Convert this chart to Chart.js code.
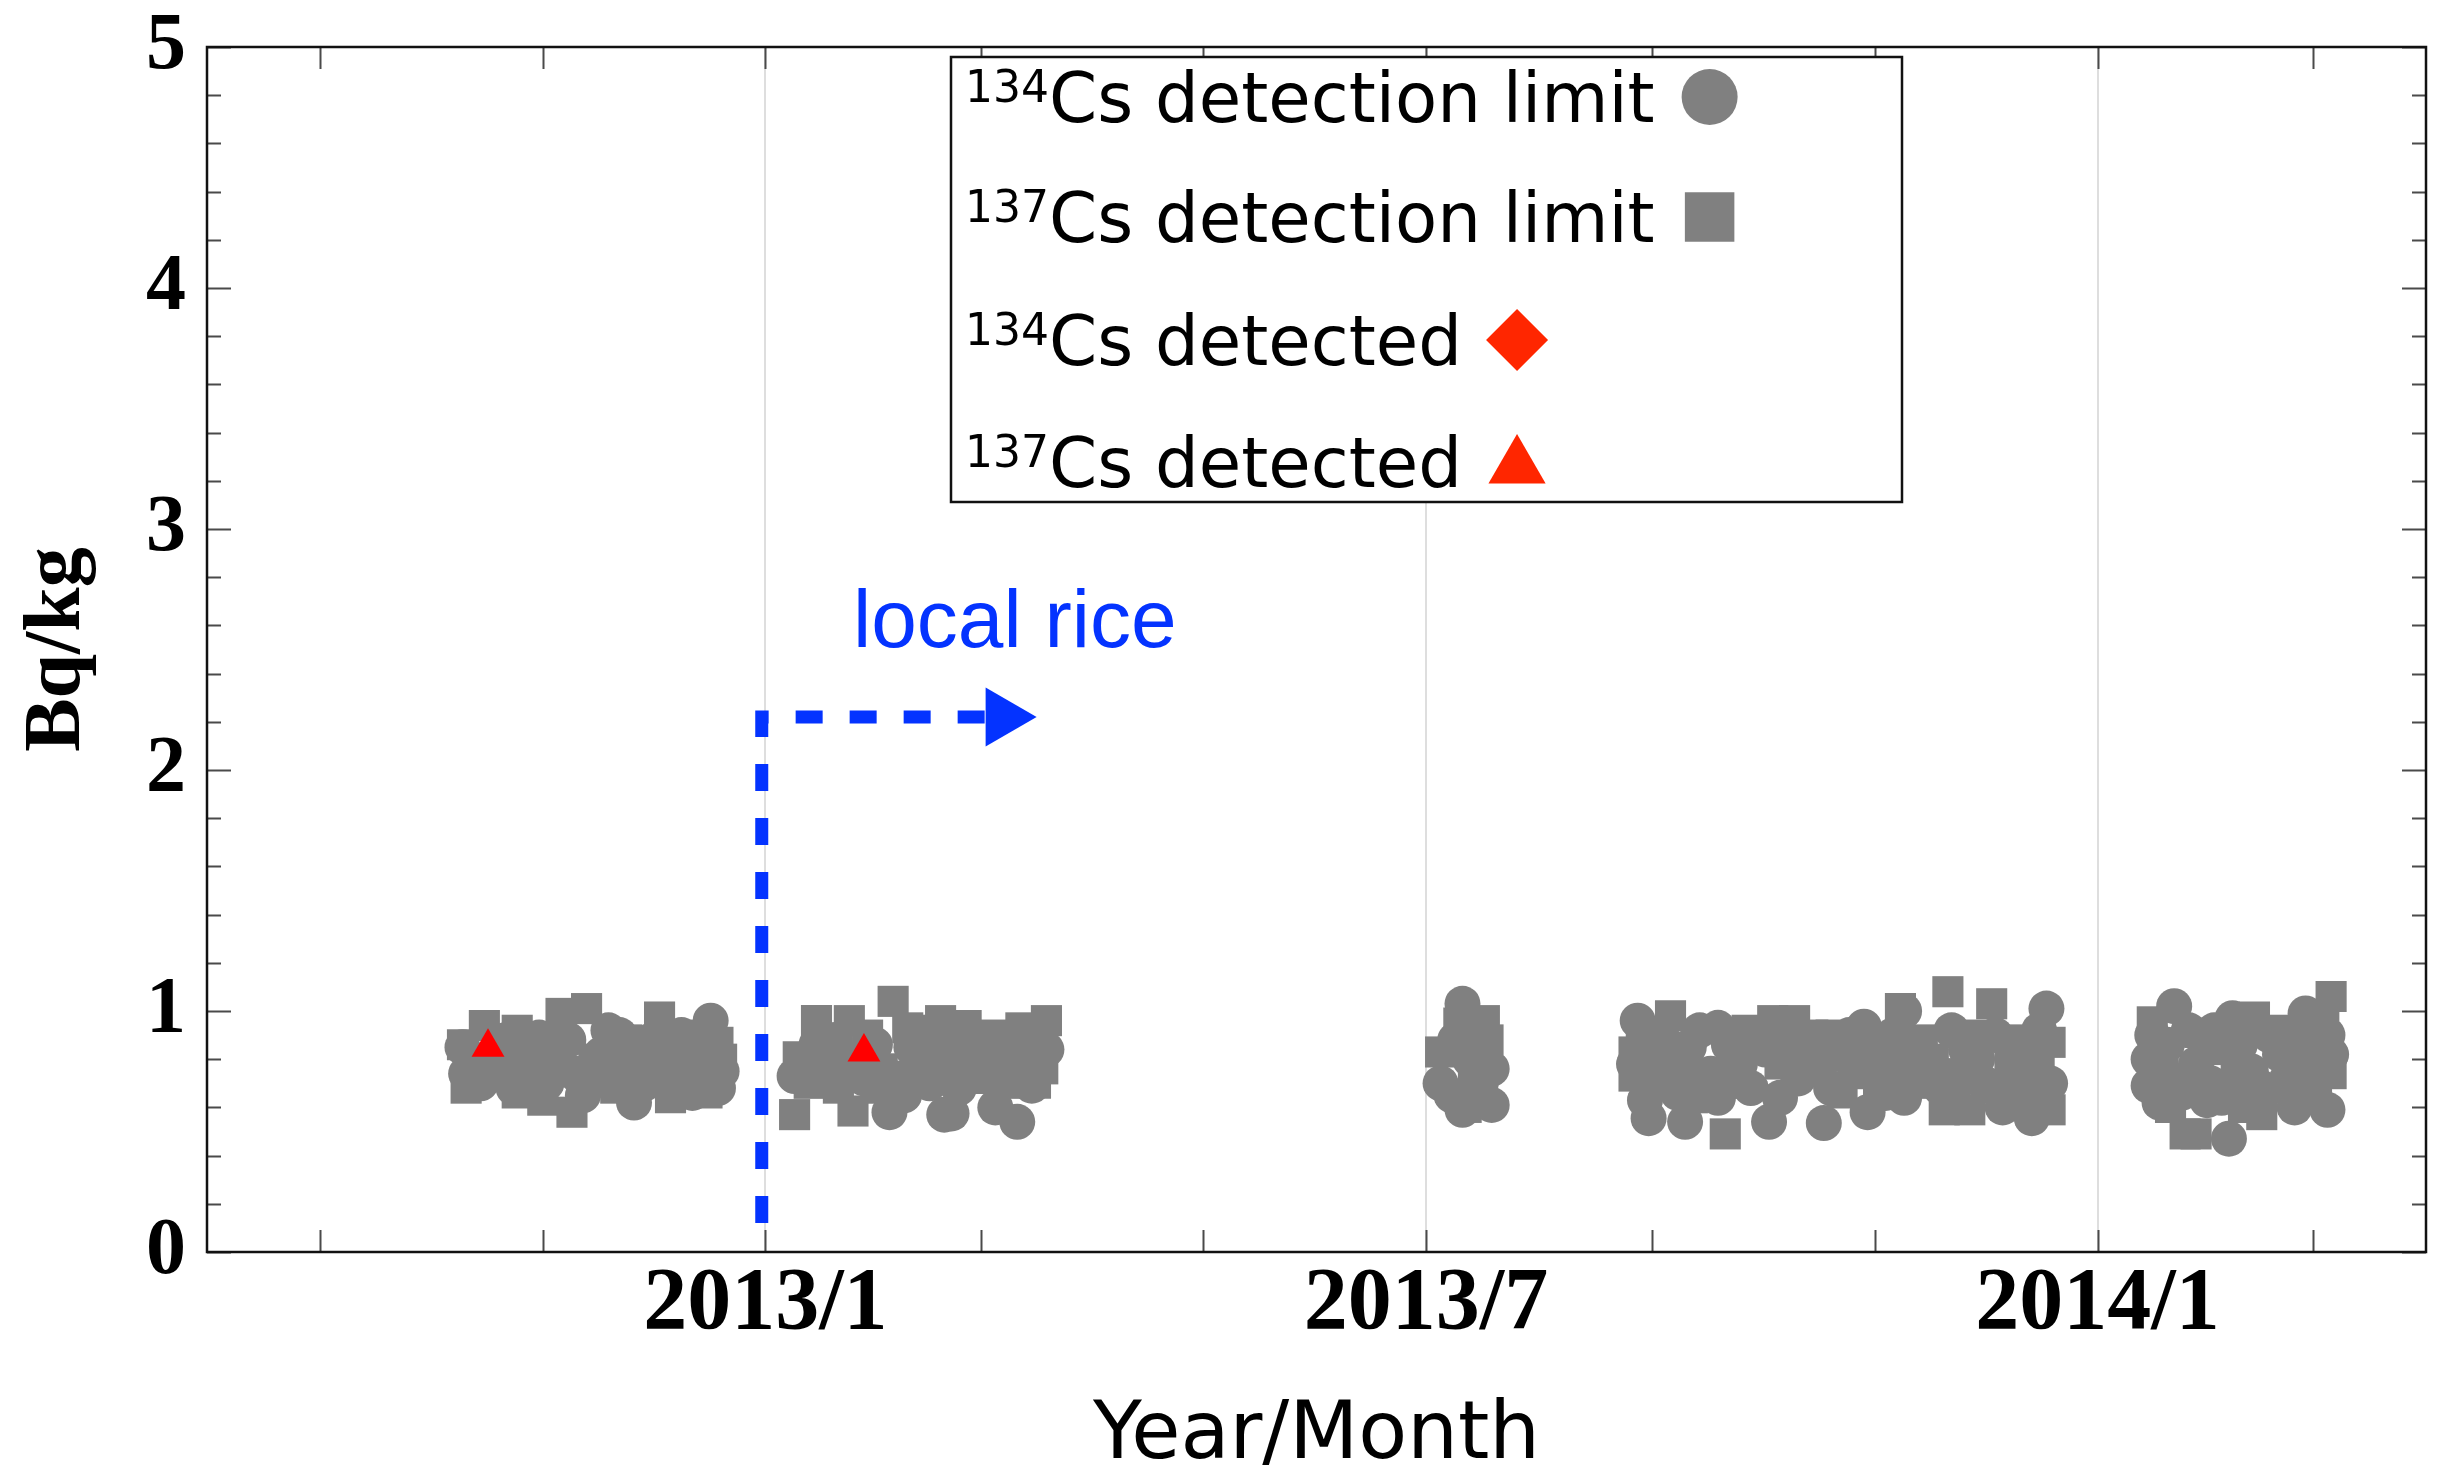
<!DOCTYPE html>
<html>
<head>
<meta charset="utf-8">
<title>Cs in rice</title>
<script src="https://cdn.jsdelivr.net/npm/chart.js@4.4.1/dist/chart.umd.min.js"></script>
<style>
  html, body { margin: 0; padding: 0; background: #ffffff; overflow: hidden; }
  #wrap { width: 2443px; height: 1467px; }
  #chart { display: block; }
</style>
</head>
<body>
<div id="wrap"><canvas id="chart" width="2443" height="1467"></canvas></div>
<script>
// ---- measurement data (Bq/kg) ----
// 134Cs detection limit
const cs134LimitDates = [
  // 2012 autumn
  '2012-10-10','2012-10-11','2012-10-13','2012-10-15','2012-10-20','2012-10-22','2012-10-24','2012-10-26',
  '2012-10-28','2012-10-31','2012-11-02','2012-11-05','2012-11-08','2012-11-10','2012-11-12','2012-11-14',
  '2012-11-17','2012-11-19','2012-11-22','2012-11-24','2012-11-26','2012-11-29','2012-12-01','2012-12-03',
  '2012-12-05','2012-12-07','2012-12-09','2012-12-12','2012-12-14','2012-12-16','2012-12-17','2012-12-18',
  '2012-12-19','2012-12-20',
  // 2013 winter
  '2013-01-09','2013-01-12','2013-01-15','2013-01-18','2013-01-20','2013-01-23','2013-01-26','2013-01-28',
  '2013-01-31','2013-02-04','2013-02-06','2013-02-08','2013-02-10','2013-02-12','2013-02-15','2013-02-19',
  '2013-02-21','2013-02-23','2013-02-25','2013-02-27','2013-03-03','2013-03-05','2013-03-08','2013-03-11',
  '2013-03-14','2013-03-15','2013-03-17','2013-03-19',
  // 2013 July
  '2013-07-05','2013-07-08','2013-07-09','2013-07-11','2013-07-11','2013-07-13','2013-07-16','2013-07-19',
  '2013-07-19',
  // 2013 autumn
  '2013-08-27','2013-08-28','2013-08-30','2013-08-31','2013-09-02','2013-09-04','2013-09-08','2013-09-10',
  '2013-09-11','2013-09-14','2013-09-17','2013-09-19','2013-09-19','2013-09-22','2013-09-25','2013-09-28',
  '2013-10-02','2013-10-03','2013-10-06','2013-10-08','2013-10-11','2013-10-14','2013-10-18','2013-10-20',
  '2013-10-23','2013-10-25','2013-10-29','2013-10-30','2013-11-01','2013-11-04','2013-11-06','2013-11-09',
  '2013-11-09','2013-11-12','2013-11-16','2013-11-19','2013-11-22','2013-11-26','2013-11-29','2013-12-01',
  '2013-12-04','2013-12-06','2013-12-09','2013-12-11','2013-12-13','2013-12-14','2013-12-16','2013-12-18',
  '2013-12-19',
  // 2014 winter
  '2014-01-15','2014-01-15','2014-01-16','2014-01-18','2014-01-20','2014-01-22','2014-01-24','2014-01-26',
  '2014-01-28','2014-01-31','2014-02-01','2014-02-02','2014-02-04','2014-02-06','2014-02-07','2014-02-09',
  '2014-02-12','2014-02-15','2014-02-17','2014-02-20','2014-02-22','2014-02-24','2014-02-26','2014-02-27',
  '2014-03-01','2014-03-03','2014-03-05','2014-03-05','2014-03-06'
];
const cs134LimitValues = [
  0.85, 0.74, 0.78, 0.70, 0.80, 0.88, 0.68, 0.72,
  0.83, 0.89, 0.70, 0.78, 0.88, 0.74, 0.65, 0.70,
  0.82, 0.92, 0.90, 0.76, 0.62, 0.70, 0.88, 0.80,
  0.84, 0.74, 0.90, 0.66, 0.78, 0.72, 0.96, 0.84,
  0.68, 0.75,
  0.73, 0.80, 0.86, 0.73, 0.88, 0.80, 0.78, 0.72,
  0.86, 0.58, 0.72, 0.65, 0.85, 0.78, 0.70, 0.57,
  0.575, 0.68, 0.80, 0.88, 0.74, 0.60, 0.86, 0.54,
  0.78, 0.69, 0.90, 0.84,
  0.70, 0.65, 0.88, 1.03, 0.59, 0.80, 0.70, 0.76,
  0.61,
  0.78, 0.96, 0.63, 0.555, 0.72, 0.88, 0.66, 0.54,
  0.85, 0.92, 0.74, 0.93, 0.64, 0.86, 0.78, 0.68,
  0.84, 0.54, 0.64, 0.90, 0.72, 0.76, 0.535, 0.68,
  0.82, 0.90, 0.935, 0.58, 0.80, 0.66, 0.90, 1.00,
  0.64, 0.82, 0.75, 0.68, 0.92, 0.84, 0.80, 0.70,
  0.90, 0.60, 0.68, 0.85, 0.78, 0.555, 0.92, 1.01,
  0.70,
  0.80, 0.69, 0.90, 0.62, 0.86, 1.02, 0.66, 0.92,
  0.78, 0.63, 0.70, 0.92, 0.64, 0.47, 0.97, 0.86,
  0.75, 0.68, 0.90, 0.82, 0.72, 0.60, 0.935, 0.99,
  0.70, 0.84, 0.59, 0.90, 0.82
];

// 137Cs detection limit
const cs137LimitDates = [
  // 2012 autumn
  '2012-10-10','2012-10-11','2012-10-12','2012-10-16','2012-10-18','2012-10-21','2012-10-25','2012-10-25',
  '2012-10-29','2012-11-01','2012-11-03','2012-11-06','2012-11-09','2012-11-13','2012-11-15','2012-11-19',
  '2012-11-21','2012-11-24','2012-11-27','2012-11-30','2012-12-03','2012-12-06','2012-12-09','2012-12-11',
  '2012-12-14','2012-12-16','2012-12-18','2012-12-19','2012-12-20',
  // 2013 winter
  '2013-01-09','2013-01-10','2013-01-13','2013-01-15','2013-01-21','2013-01-24','2013-01-25','2013-01-29',
  '2013-02-01','2013-02-02','2013-02-05','2013-02-09','2013-02-11','2013-02-14','2013-02-16','2013-02-18',
  '2013-02-20','2013-02-22','2013-02-25','2013-02-28','2013-03-02','2013-03-04','2013-03-07','2013-03-09',
  '2013-03-12','2013-03-13','2013-03-16','2013-03-18','2013-03-19',
  // 2013 July
  '2013-07-05','2013-07-10','2013-07-12','2013-07-13','2013-07-14','2013-07-15','2013-07-17','2013-07-18',
  // 2013 autumn
  '2013-08-27','2013-08-27','2013-08-29','2013-09-03','2013-09-06','2013-09-09','2013-09-12','2013-09-15',
  '2013-09-21','2013-09-24','2013-09-27','2013-09-30','2013-10-04','2013-10-06','2013-10-10','2013-10-12',
  '2013-10-15','2013-10-17','2013-10-20','2013-10-23','2013-10-26','2013-10-27','2013-10-31','2013-11-02',
  '2013-11-05','2013-11-08','2013-11-11','2013-11-14','2013-11-17','2013-11-20','2013-11-21','2013-11-23',
  '2013-11-24','2013-11-27','2013-11-30','2013-12-03','2013-12-05','2013-12-08','2013-12-10','2013-12-13',
  '2013-12-16','2013-12-19','2013-12-19',
  // 2014 winter
  '2014-01-16','2014-01-19','2014-01-21','2014-01-23','2014-01-25','2014-01-28','2014-01-30','2014-02-04',
  '2014-02-08','2014-02-10','2014-02-13','2014-02-15','2014-02-18','2014-02-20','2014-02-23','2014-02-28',
  '2014-03-02','2014-03-04','2014-03-06','2014-03-06'
];
const cs137LimitValues = [
  0.86, 0.68, 0.80, 0.94, 0.77, 0.86, 0.92, 0.66,
  0.75, 0.63, 0.84, 0.99, 0.58, 1.01, 0.80, 0.76,
  0.68, 0.88, 0.85, 0.78, 0.975, 0.64, 0.70, 0.82,
  0.90, 0.66, 0.78, 0.87, 0.80,
  0.57, 0.81, 0.70, 0.96, 0.68, 0.96, 0.585, 0.90,
  0.68, 0.76, 1.04, 0.93, 0.74, 0.85, 0.92, 0.96,
  0.76, 0.88, 0.94, 0.72, 0.87, 0.90, 0.78, 0.70,
  0.93, 0.82, 0.70, 0.76, 0.96,
  0.83, 0.95, 0.60, 0.90, 0.72, 0.65, 0.96, 0.88,
  0.83, 0.73, 0.88, 0.80, 0.98, 0.76, 0.64, 0.72,
  0.49, 0.70, 0.92, 0.86, 0.96, 0.78, 0.96, 0.86,
  0.90, 0.80, 0.90, 0.66, 0.74, 0.89, 0.86, 0.70,
  0.78, 1.01, 0.70, 0.88, 0.80, 0.59, 1.08, 0.66,
  0.74, 0.59, 0.90, 1.03, 0.68, 0.78, 0.88, 0.66,
  0.80, 0.87, 0.59,
  0.955, 0.76, 0.60, 0.72, 0.49, 0.49, 0.88, 0.84,
  0.72, 0.60, 0.975, 0.57, 0.68, 0.92, 0.84, 0.80,
  0.64, 0.94, 1.06, 0.74
];

const cs134DetectedDates = [];
const cs134DetectedValues = [];

const cs137DetectedDates = ['2012-10-17', '2013-01-28'];
const cs137DetectedValues = [0.85, 0.83];

// start of local rice supply
const arrowDates = ['2012-12-31', '2012-12-31', '2013-03-07'];
const arrowValues = [0.12, 2.22, 2.22];

// ---- axes ----
const axisStart = '2012-08-01';
const axisEnd = '2014-04-01';
const xTickDates = ['2012-09-01','2012-11-01','2013-01-01','2013-03-01','2013-05-01',
                    '2013-07-01','2013-09-01','2013-11-01','2014-01-01','2014-03-01'];
const xTickLabels = ['', '', '2013/1', '', '', '2013/7', '', '', '2014/1', ''];
const yTickValues = [0, 1, 2, 3, 4, 5];
const yMinorStep = 0.2;

const seriesNames = ['Cs detection limit', 'Cs detection limit', 'Cs detected', 'Cs detected'];
const seriesIsotopes = ['134', '137', '134', '137'];

// ---- helpers ----
const DAY = 86400000;
const t0 = Date.parse(axisStart + 'T00:00:00Z');
function dayOf(s) { return Math.round((Date.parse(s + 'T00:00:00Z') - t0) / DAY); }
function points(dates, values) { return dates.map((d, i) => ({ x: dayOf(d), y: values[i] })); }
const tickDays = xTickDates.map(dayOf);
function labelForDay(v) { const i = tickDays.indexOf(Math.round(v)); return i >= 0 ? xTickLabels[i] : ''; }

const GRAY = '#808080';
const RED_MARK = '#ff0000';
const RED_KEY = '#ff2600';
const BLUE = '#0433ff';

const markerStyles = [
  { pointStyle: 'circle', radius: 28, color: GRAY },
  { pointStyle: 'rect', radius: 35, color: GRAY },
  { pointStyle: 'rectRot', radius: 31, color: RED_KEY },
  { pointStyle: 'triangle', radius: 33, color: RED_KEY }
];

function drawMarker(ctx, style, x, y) {
  ctx.fillStyle = style.color;
  if (Chart.helpers && Chart.helpers.drawPoint) {
    Chart.helpers.drawPoint(ctx, { pointStyle: style.pointStyle, radius: style.radius, rotation: 0, borderWidth: 0 }, x, y);
  }
}

// frame around the plot plus inward tick marks on all four sides
const frameAndTicks = {
  id: 'frameAndTicks',
  beforeDatasetsDraw(chart) {
    const { ctx, chartArea: a, scales: { x, y } } = chart;
    ctx.save();
    ctx.strokeStyle = '#4a4a4a';
    ctx.lineWidth = 2;
    ctx.beginPath();
    tickDays.forEach(d => {
      const px = Math.round(x.getPixelForValue(d)) + 0.5;
      ctx.moveTo(px, a.bottom); ctx.lineTo(px, a.bottom - 22);
      ctx.moveTo(px, a.top); ctx.lineTo(px, a.top + 22);
    });
    const n = Math.round((y.max - y.min) / yMinorStep);
    for (let i = 0; i <= n; i++) {
      const v = y.min + i * yMinorStep;
      const major = Math.abs(v - Math.round(v)) < 1e-6;
      const len = major ? 24 : 14;
      const py = Math.round(y.getPixelForValue(v)) + 0.5;
      ctx.moveTo(a.left, py); ctx.lineTo(a.left + len, py);
      ctx.moveTo(a.right, py); ctx.lineTo(a.right - len, py);
    }
    ctx.stroke();
    ctx.strokeStyle = '#111111';
    ctx.lineWidth = 2.5;
    ctx.strokeRect(a.left, a.top, a.right - a.left, a.bottom - a.top);
    ctx.restore();
  }
};

// "local rice" caption above the arrow
const riceCaption = {
  id: 'riceCaption',
  afterDatasetsDraw(chart, args, opts) {
    const { ctx, scales: { x, y } } = chart;
    ctx.save();
    ctx.fillStyle = BLUE;
    ctx.font = "82px 'Liberation Sans', Arial, sans-serif";
    ctx.textBaseline = 'alphabetic';
    ctx.textAlign = 'left';
    ctx.fillText(opts.text, x.getPixelForValue(dayOf(opts.date)), y.getPixelForValue(opts.value));
    ctx.restore();
  }
};

// boxed key: text first, symbol to its right
const keyBox = {
  id: 'keyBox',
  afterDatasetsDraw(chart) {
    const { ctx, chartArea: a } = chart;
    const left = a.left + 744, top = a.top + 10, w = 951, h = 445;
    ctx.save();
    ctx.fillStyle = '#ffffff';
    ctx.fillRect(left, top, w, h);
    ctx.strokeStyle = '#111111';
    ctx.lineWidth = 2.5;
    ctx.strokeRect(left, top, w, h);
    const baselines = [65, 185, 308, 430];
    const mainFont = "69px 'DejaVu Sans', sans-serif";
    const supFont = "44px 'DejaVu Sans', sans-serif";
    ctx.textBaseline = 'alphabetic';
    ctx.textAlign = 'left';
    for (let i = 0; i < 4; i++) {
      const by = top + baselines[i];
      let tx = left + 14;
      ctx.fillStyle = '#000000';
      ctx.font = supFont;
      ctx.fillText(seriesIsotopes[i], tx, by - 20);
      tx += ctx.measureText(seriesIsotopes[i]).width;
      ctx.font = mainFont;
      ctx.fillText(seriesNames[i], tx, by);
      tx += ctx.measureText(seriesNames[i]).width;
      const st = markerStyles[i];
      const cy = st.pointStyle === 'triangle' ? by - 20 : by - 25;
      drawMarker(ctx, st, tx + 55, cy);
    }
    ctx.restore();
  }
};

const ctx = document.getElementById('chart').getContext('2d');
new Chart(ctx, {
  type: 'scatter',
  data: {
    datasets: [
      {
        label: '137Cs detection limit',
        data: points(cs137LimitDates, cs137LimitValues),
        pointStyle: 'rect', pointRadius: 22, pointHoverRadius: 22,
        backgroundColor: GRAY, borderWidth: 0, order: 5
      },
      {
        label: '134Cs detection limit',
        data: points(cs134LimitDates, cs134LimitValues),
        pointStyle: 'circle', pointRadius: 18, pointHoverRadius: 18,
        backgroundColor: GRAY, borderWidth: 0, order: 4
      },
      {
        label: '134Cs detected',
        data: points(cs134DetectedDates, cs134DetectedValues),
        pointStyle: 'rectRot', pointRadius: 19,
        backgroundColor: RED_MARK, borderWidth: 0, order: 1
      },
      {
        label: '137Cs detected',
        data: points(cs137DetectedDates, cs137DetectedValues),
        pointStyle: 'triangle', pointRadius: 19, pointHoverRadius: 19,
        backgroundColor: RED_MARK, borderWidth: 0, order: 0
      },
      {
        type: 'line',
        label: 'local rice',
        data: points(arrowDates, arrowValues),
        borderColor: BLUE, borderWidth: 13, borderDash: [27, 27],
        borderCapStyle: 'butt', borderJoinStyle: 'miter',
        pointRadius: 0, fill: false, tension: 0, order: 3
      },
      {
        label: 'arrow head',
        data: points(arrowDates.slice(-1), arrowValues.slice(-1)),
        pointStyle: 'triangle', rotation: 90, pointRadius: 34, pointHoverRadius: 34,
        backgroundColor: BLUE, borderWidth: 0, order: 2
      }
    ]
  },
  options: {
    responsive: false,
    animation: false,
    events: [],
    layout: { autoPadding: false, padding: { top: 47, right: 17, left: 0, bottom: 0 } },
    plugins: {
      legend: { display: false },
      tooltip: { enabled: false },
      riceCaption: { text: 'local rice', date: '2013-01-25', value: 2.51 }
    },
    scales: {
      x: {
        type: 'linear',
        min: dayOf(axisStart),
        max: dayOf(axisEnd),
        afterBuildTicks: (scale) => { scale.ticks = tickDays.map(v => ({ value: v })); },
        afterFit: (scale) => { scale.height = 215; },
        ticks: {
          autoSkip: false, maxRotation: 0, minRotation: 0, padding: 0, color: '#000000',
          font: { family: "'Liberation Serif', 'Times New Roman', serif", size: 88, weight: 'bold', lineHeight: 1.2 },
          callback: (v) => labelForDay(v)
        },
        grid: {
          drawTicks: false,
          lineWidth: 2,
          color: (c) => (c.tick && labelForDay(c.tick.value)) ? '#dedede' : 'rgba(0,0,0,0)'
        },
        border: { display: false },
        title: {
          display: true, text: 'Year/Month', color: '#000000', padding: 0,
          font: { family: "'DejaVu Sans', sans-serif", size: 80, lineHeight: 0.75 }
        }
      },
      y: {
        min: 0, max: 5,
        afterBuildTicks: (scale) => { scale.ticks = yTickValues.map(v => ({ value: v })); },
        afterFit: (scale) => { scale.width = 207; },
        ticks: {
          padding: 21, color: '#000000',
          font: { family: "'Liberation Serif', 'Times New Roman', serif", size: 80, weight: 'bold', lineHeight: 0.65 }
        },
        grid: { display: false, drawTicks: false },
        border: { display: false },
        title: {
          display: true, text: 'Bq/kg', color: '#000000', padding: { top: 10, bottom: 0 },
          font: { family: "'Liberation Serif', 'Times New Roman', serif", size: 80, weight: 'bold', lineHeight: 1.2 }
        }
      }
    }
  },
  plugins: [frameAndTicks, riceCaption, keyBox]
});
</script>
</body>
</html>
